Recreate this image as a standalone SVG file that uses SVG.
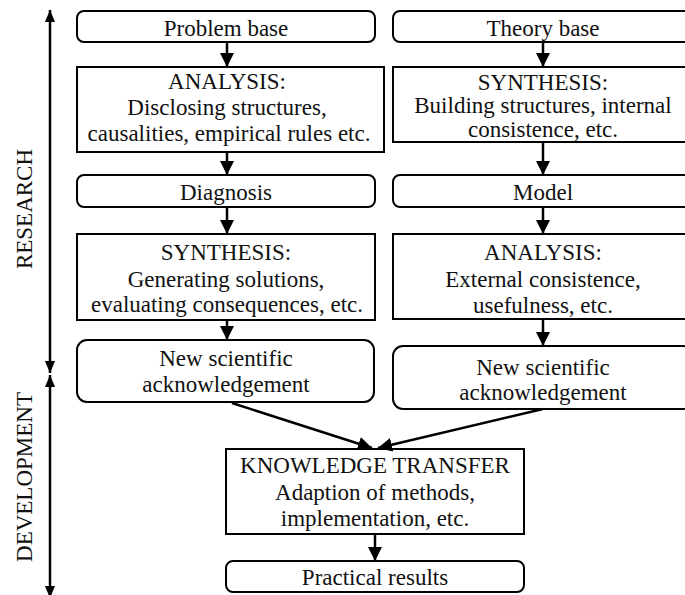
<svg xmlns="http://www.w3.org/2000/svg" width="685" height="595" viewBox="0 0 685 595">
  <style>
    text { font-family: "Liberation Serif", "Times New Roman", serif; font-size: 23px; fill: #111; text-anchor: middle; }
    .box { fill: #fff; stroke: #000; stroke-width: 2; }
    .link { stroke: #000; stroke-width: 2.5; fill: none; }
  </style>
  <defs>
    <marker id="head" viewBox="0 0 10 10" refX="10" refY="5" markerWidth="14" markerHeight="14" markerUnits="userSpaceOnUse" orient="auto">
      <path d="M0,0 L10,5 L0,10 z" fill="#000"/>
    </marker>
    <marker id="axisHead" viewBox="0 0 10 10" refX="10" refY="5" markerWidth="12" markerHeight="12" markerUnits="userSpaceOnUse" orient="auto-start-reverse">
      <path d="M0,0.8 L10,5 L0,9.2 z" fill="#000"/>
    </marker>
  </defs>
  <rect width="685" height="595" fill="#fff"/>

  <!-- phase axis -->
  <g id="axis">
    <line class="link" x1="50" y1="10" x2="50" y2="373" marker-start="url(#axisHead)" marker-end="url(#axisHead)"/>
    <line class="link" x1="50" y1="375" x2="50" y2="598" marker-start="url(#axisHead)" marker-end="url(#axisHead)"/>
    <text transform="translate(32,209) rotate(-90)">RESEARCH</text>
    <text transform="translate(32,477) rotate(-90)">DEVELOPMENT</text>
  </g>

  <!-- left column -->
  <g id="problem-base">
    <rect class="box" x="77" y="11" width="298" height="31" rx="7"/>
    <text x="226" y="36">Problem base</text>
  </g>
  <g id="analysis-left">
    <rect class="box" x="77" y="67" width="307" height="85"/>
    <text x="227" y="89">ANALYSIS:</text>
    <text x="227" y="115">Disclosing structures,</text>
    <text x="229" y="141">causalities, empirical rules etc.</text>
  </g>
  <g id="diagnosis">
    <rect class="box" x="77" y="175" width="298" height="32" rx="7"/>
    <text x="226" y="200">Diagnosis</text>
  </g>
  <g id="synthesis-left">
    <rect class="box" x="77" y="234" width="298" height="86"/>
    <text x="226" y="260">SYNTHESIS:</text>
    <text x="226" y="287">Generating solutions,</text>
    <text x="227" y="312">evaluating consequences, etc.</text>
  </g>
  <g id="acknowledgement-left">
    <rect class="box" x="77" y="340" width="297" height="62" rx="10"/>
    <text x="226" y="366">New scientific</text>
    <text x="226" y="392">acknowledgement</text>
  </g>

  <!-- right column -->
  <g id="theory-base">
    <rect class="box" x="393" y="11" width="300" height="31" rx="7"/>
    <text x="543" y="36">Theory base</text>
  </g>
  <g id="synthesis-right">
    <rect class="box" x="393" y="67" width="300" height="75"/>
    <text x="543" y="90">SYNTHESIS:</text>
    <text x="543" y="113">Building structures, internal</text>
    <text x="543" y="137">consistence, etc.</text>
  </g>
  <g id="model">
    <rect class="box" x="393" y="175" width="300" height="32" rx="7"/>
    <text x="543" y="200">Model</text>
  </g>
  <g id="analysis-right">
    <rect class="box" x="393" y="234" width="300" height="85"/>
    <text x="543" y="260">ANALYSIS:</text>
    <text x="543" y="287">External consistence,</text>
    <text x="543" y="313">usefulness, etc.</text>
  </g>
  <g id="acknowledgement-right">
    <rect class="box" x="393" y="346" width="300" height="63" rx="10"/>
    <text x="543" y="375">New scientific</text>
    <text x="543" y="400">acknowledgement</text>
  </g>

  <!-- bottom -->
  <g id="knowledge-transfer">
    <rect class="box" x="226" y="449" width="298" height="85"/>
    <text x="375" y="473">KNOWLEDGE TRANSFER</text>
    <text x="375" y="500">Adaption of methods,</text>
    <text x="375" y="526">implementation, etc.</text>
  </g>
  <g id="practical-results">
    <rect class="box" x="226" y="561" width="298" height="31" rx="7"/>
    <text x="375" y="585">Practical results</text>
  </g>

  <!-- connectors -->
  <g id="connectors">
    <line class="link" x1="227" y1="42" x2="227" y2="67" marker-end="url(#head)"/>
    <line class="link" x1="227" y1="152" x2="227" y2="175" marker-end="url(#head)"/>
    <line class="link" x1="227" y1="207" x2="227" y2="234" marker-end="url(#head)"/>
    <line class="link" x1="227" y1="320" x2="227" y2="340" marker-end="url(#head)"/>
    <line class="link" x1="543" y1="42" x2="543" y2="67" marker-end="url(#head)"/>
    <line class="link" x1="543" y1="142" x2="543" y2="175" marker-end="url(#head)"/>
    <line class="link" x1="543" y1="207" x2="543" y2="234" marker-end="url(#head)"/>
    <line class="link" x1="543" y1="319" x2="543" y2="346" marker-end="url(#head)"/>
    <line class="link" x1="232" y1="403" x2="372" y2="448" marker-end="url(#head)"/>
    <line class="link" x1="543" y1="409" x2="378" y2="448" marker-end="url(#head)"/>
    <line class="link" x1="375" y1="534" x2="375" y2="561" marker-end="url(#head)"/>
  </g>
</svg>
